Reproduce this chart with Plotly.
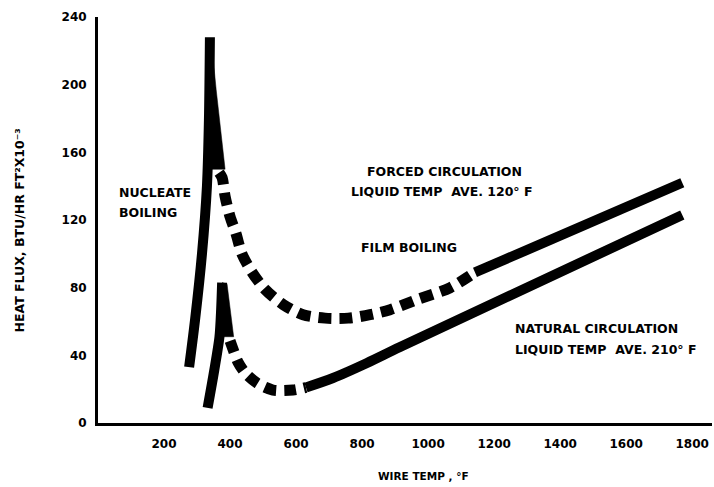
import plotly.graph_objects as go

# Boiling curves for an electrically heated wire: heat flux vs wire temperature.
# Units: wire temperature in deg F, heat flux in BTU/hr ft^2 x 10^-3.

# Forced circulation (liquid ave. 120 F)
forced_nuc_x = [276, 294, 315, 330, 336, 339]
forced_nuc_y = [33, 61, 100, 140, 179, 228]

forced_peak_x = [348, 358, 385, 327]
forced_peak_y = [217, 197, 150, 150]

forced_film_x = [367, 376, 385, 400, 418, 436, 467, 506, 561, 621, 688, 758,
                 824, 885, 967, 1067, 1142]
forced_film_y = [148, 145, 134, 122, 112, 100, 89, 79, 70, 64, 62, 62,
                 64, 67, 73, 80, 89]

forced_stable_x = [1142, 1770]
forced_stable_y = [89, 142]

# Natural circulation (liquid ave. 210 F)
natural_nuc_x = [332, 352, 368, 373, 376]
natural_nuc_y = [9, 31, 51, 67, 83]

natural_peak_x = [376, 391, 411, 364]
natural_peak_y = [83, 82, 51, 51]

natural_film_x = [400, 412, 424, 446, 482, 530, 591, 630]
natural_film_y = [48.5, 42, 36, 29.6, 23.6, 19.5, 19.5, 21]

natural_stable_x = [630, 712, 815, 915, 1770]
natural_stable_y = [21, 26.6, 35.5, 44.9, 123]

x_ticks = [200, 400, 600, 800, 1000, 1200, 1400, 1600, 1800]
y_ticks = [0, 40, 80, 120, 160, 200, 240]

FONT = "DejaVu Sans"
INK = "black"

fig = go.Figure()


def line(x, y, dash="solid", width=10, shape="spline"):
    fig.add_trace(go.Scatter(
        x=x, y=y, mode="lines",
        line=dict(color=INK, width=width, dash=dash, shape=shape, smoothing=0.8),
        hoverinfo="skip", showlegend=False))


def wedge(x, y):
    fig.add_trace(go.Scatter(
        x=x, y=y, mode="lines", fill="toself", fillcolor=INK,
        line=dict(color=INK, width=0.5),
        hoverinfo="skip", showlegend=False))


line(forced_nuc_x, forced_nuc_y)
wedge(forced_peak_x, forced_peak_y)
line(forced_film_x, forced_film_y, dash="13px,8px", width=11)
line(forced_stable_x, forced_stable_y, shape="linear")

line(natural_nuc_x, natural_nuc_y)
wedge(natural_peak_x, natural_peak_y)
line(natural_film_x, natural_film_y, dash="12px,8px", width=11)
line(natural_stable_x, natural_stable_y)

labels = [
    ("NUCLEATE", 58, 136, "left"),
    ("BOILING", 58, 124.5, "left"),
    ("FORCED CIRCULATION", 1051, 148.5, "center"),
    ("LIQUID TEMP  AVE. 120° F", 1041, 136.7, "center"),
    ("FILM BOILING", 941, 104, "center"),
    ("NATURAL CIRCULATION", 1257, 55.6, "left"),
    ("LIQUID TEMP  AVE. 210° F", 1257, 43.2, "left"),
]
for text, x, y, anchor in labels:
    fig.add_annotation(
        x=x, y=y, xref="x", yref="y", text=text, showarrow=False,
        xanchor=anchor, yanchor="middle",
        font=dict(family=FONT, size=12.5, color=INK, weight="bold"))

# Axis titles
fig.add_annotation(
    x=-0.128, y=0.475, xref="paper", yref="paper",
    text="HEAT FLUX, BTU/HR FT²X10⁻³", textangle=-90, showarrow=False,
    xanchor="center", yanchor="middle",
    font=dict(family=FONT, size=12.5, color=INK, weight="bold"))
fig.add_annotation(
    x=0.53, y=-0.13, xref="paper", yref="paper",
    text="WIRE TEMP , °F", showarrow=False,
    xanchor="center", yanchor="middle",
    font=dict(family=FONT, size=10.5, color=INK, weight="bold"))

axis_common = dict(
    showline=True, linewidth=3, linecolor=INK, showgrid=False, zeroline=False,
    ticks="", tickfont=dict(family=FONT, size=12, color=INK, weight="bold"),
)

fig.update_layout(
    width=714, height=487,
    margin=dict(l=98, r=2, t=17, b=64),
    paper_bgcolor="white", plot_bgcolor="white",
    showlegend=False,
    xaxis=dict(range=[0, 1860], tickvals=x_ticks, ticklabelstandoff=8, **axis_common),
    yaxis=dict(range=[0, 240], tickvals=y_ticks, ticklabelstandoff=6, **axis_common),
)

fig.write_html("out.html")
